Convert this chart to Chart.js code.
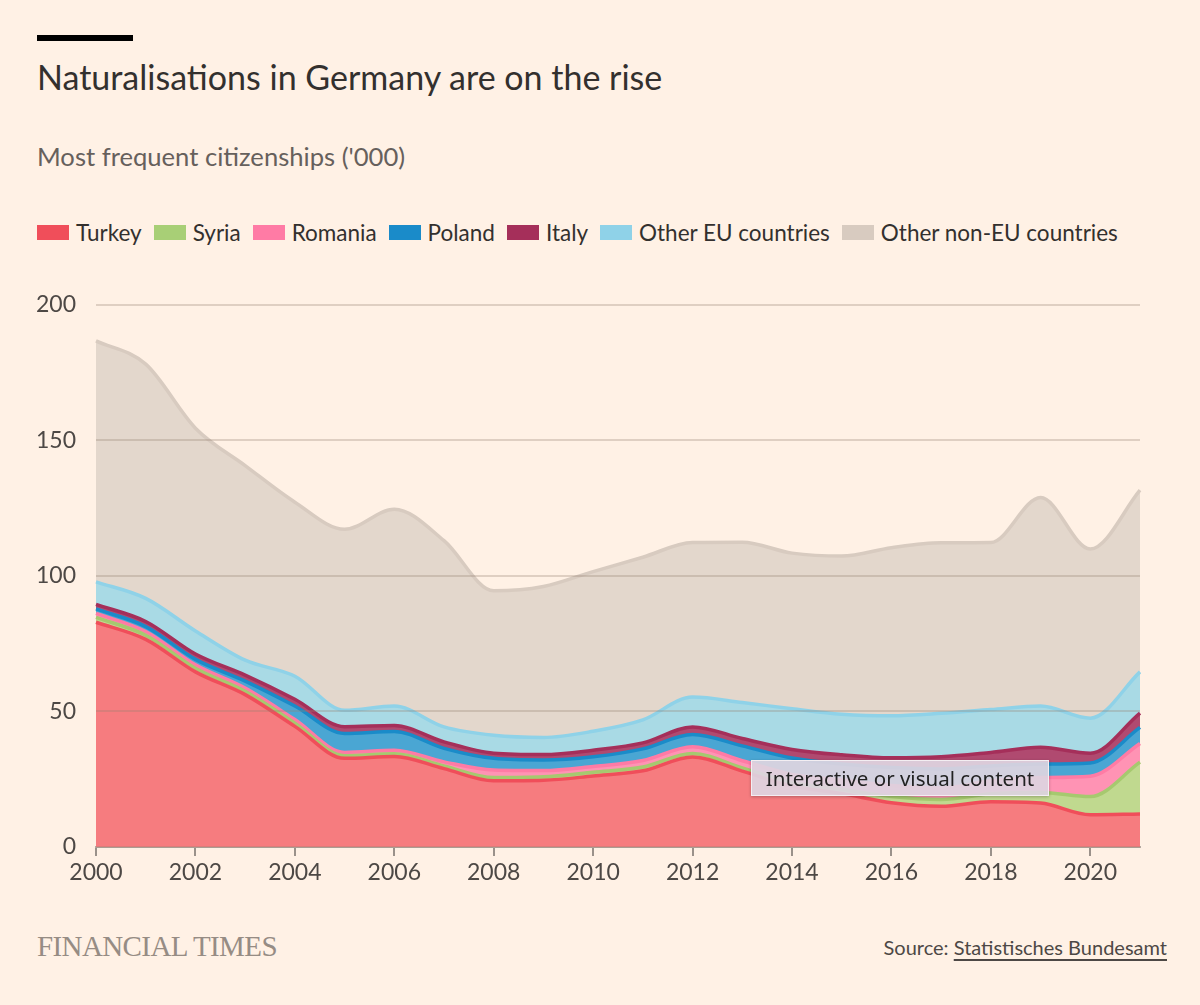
<!DOCTYPE html>
<html>
<head>
<meta charset="utf-8">
<script src="https://cdn.jsdelivr.net/npm/chart.js@4.4.1/dist/chart.umd.min.js"></script>
<style>
  body{margin:0;background:#fff1e5;width:1200px;height:1005px;position:relative;overflow:hidden;font-family:"Lato","Noto Sans",sans-serif;color:#33302e;}
  .bar{position:absolute;left:37px;top:35px;width:96px;height:6px;background:#000;}
  .title{position:absolute;left:37px;top:56px;font-size:34px;white-space:nowrap;}
  .sub{position:absolute;left:37px;top:141px;font-size:25.6px;color:#66605c;white-space:nowrap;}
  .legend{position:absolute;left:37px;top:219px;font-size:22.5px;white-space:nowrap;display:flex;align-items:center;}
  .legend span.sw{display:inline-block;width:32px;height:15px;margin-right:7px;}
  .legend span.it{margin-right:12px;}
  #wrap{position:absolute;left:20px;top:271px;width:1160px;height:621px;}
  .ft{position:absolute;left:37px;top:930px;font-family:"Liberation Serif","DejaVu Serif",serif;font-size:29px;color:#968c84;letter-spacing:-0.6px;}
  .src{position:absolute;right:33px;top:935px;font-size:20px;color:#4d4845;}
  .src u{text-decoration-thickness:2px;text-underline-offset:4px;}
  .overlay{position:absolute;left:751px;top:760px;width:296px;height:34px;background:rgba(222,212,224,0.93);border:1px solid #f3eef2;box-shadow:0 1px 3px rgba(0,0,0,0.25);font-family:"Noto Sans",sans-serif;font-size:20.5px;color:#222;line-height:34px;text-align:center;}
</style>
</head>
<body>
<div class="bar"></div>
<div class="title">Naturalisations in Germany are on the rise</div>
<div class="sub">Most frequent citizenships ('000)</div>
<div class="legend" id="legend"></div>
<div id="wrap"><canvas id="chart"></canvas></div>
<div class="ft">FINANCIAL TIMES</div>
<div class="src">Source: <u>Statistisches Bundesamt</u></div>
<div class="overlay">Interactive or visual content</div>
<script>
// years and series ('000)
var years = ['2000','2001','2002','2003','2004','2005','2006','2007','2008','2009','2010',
             '2011','2012','2013','2014','2015','2016','2017','2018','2019','2020','2021'];
var turkey  = [82.9,76.6,64.6,56.2,44.5,32.7,33.4,28.9,24.4,24.6,26.2,28.1,33.2,28.0,22.5,19.7,16.3,15.0,16.7,16.2,11.9,12.2];
var syria   = [1.8,1.5,1.3,1.2,1.2,1.0,1.0,1.0,1.2,1.3,1.4,1.4,1.3,1.2,1.3,1.6,2.3,2.5,2.9,3.9,6.7,19.1];
var romania = [1.5,1.4,1.3,1.2,1.3,1.2,1.3,1.5,2.8,2.3,2.1,2.4,2.5,2.6,3.0,3.4,4.1,4.3,4.8,5.5,7.5,6.9];
var poland  = [1.6,1.8,2.0,2.6,5.0,7.0,6.9,5.0,4.3,3.9,3.6,4.3,4.5,5.5,6.0,5.9,6.6,7.0,5.5,5.0,4.9,5.9];
var italy   = [1.7,1.9,2.0,2.2,2.5,2.5,2.2,2.4,1.9,2.0,2.4,2.2,2.8,2.7,3.2,3.4,3.6,4.5,5.0,6.2,3.6,5.3];
var otherEU = [8.3,8.5,8.5,5.5,8.5,6.0,7.2,5.5,6.6,6.3,7.0,8.5,11.0,13.3,15.0,15.0,15.5,16.0,15.8,15.2,12.9,15.2];
var otherNonEU = [88.9,86.4,74.8,71.8,64.2,66.8,72.6,68.7,53.3,55.7,58.9,60.0,57.0,59.1,57.4,58.3,62.0,62.9,61.6,76.9,62.4,67.0];
var yTicks = [0,50,100,150,200];

var series = [
  {name:'Turkey', data:turkey, line:'#f04e5a', fill:'#f67c7f', key:'#f04e5a'},
  {name:'Syria', data:syria, line:'#a6c96f', fill:'#c0d98f', key:'#a8cf76'},
  {name:'Romania', data:romania, line:'#ff7ba5', fill:'#ff93b4', key:'#ff7ba5'},
  {name:'Poland', data:poland, line:'#1a8bc9', fill:'#4aa6d3', key:'#1a8bc9'},
  {name:'Italy', data:italy, line:'#a52f5a', fill:'#b04a70', key:'#a52f5a'},
  {name:'Other EU countries', data:otherEU, line:'#8fd2e8', fill:'#a9dae5', key:'#8fd2e8'},
  {name:'Other non-EU countries', data:otherNonEU, line:'#d8cbc0', fill:'#e3d7cc', key:'#d8cbc0'}
];

// legend in html
var lg = document.getElementById('legend');
series.forEach(function(s){
  var sw = document.createElement('span'); sw.className='sw'; sw.style.background=s.key;
  var t = document.createElement('span'); t.className='it'; t.textContent=s.name;
  lg.appendChild(sw); lg.appendChild(t);
});

var datasets = series.map(function(s, i){
  return {
    label: s.name,
    data: s.data,
    borderColor: s.line,
    backgroundColor: s.fill,
    borderWidth: 3.5,
    pointRadius: 0,
    fill: i === 0 ? 'origin' : '-1',
    cubicInterpolationMode: 'monotone'
  };
});

var ctx = document.getElementById('chart').getContext('2d');
var myChart = new Chart(ctx, {
  type: 'line',
  data: {labels: years, datasets: datasets},
  options: {
    responsive: true,
    maintainAspectRatio: false,
    animation: false,
    layout: {padding: {top: 14, right: 40, left: 0, bottom: 0}},
    plugins: {legend: {display: false}, tooltip: {enabled: false}},
    scales: {
      x: {
        offset: false,
        grid: {
          drawOnChartArea: false,
          drawTicks: true,
          tickLength: 9,
          lineWidth: 2,
          color: function(c){ return c.index % 2 === 0 ? '#9a918a' : 'rgba(0,0,0,0)'; }
        },
        border: {display: true, color: '#b3aaa2', width: 2},
        ticks: {
          autoSkip: false,
          maxRotation: 0,
          padding: 3,
          color: '#4d4845',
          font: {family: 'Lato, "Noto Sans", sans-serif', size: 23},
          callback: function(v, i){ return i % 2 === 0 ? years[i] : ''; }
        },
        afterFit: function(s){ s.height = 45; }
      },
      y: {
        stacked: true,
        min: 0,
        max: 200,
        afterBuildTicks: function(s){ s.ticks = yTicks.map(function(v){ return {value: v}; }); },
        grid: {drawTicks: false, color: 'rgba(150,128,112,0.3)', lineWidth: 2, z: 1},
        border: {display: false},
        ticks: {
          padding: 20,
          color: '#4d4845',
          font: {family: 'Lato, "Noto Sans", sans-serif', size: 23}
        },
        afterFit: function(s){ s.width = 76; }
      }
    }
  }
});
</script>
</body>
</html>
